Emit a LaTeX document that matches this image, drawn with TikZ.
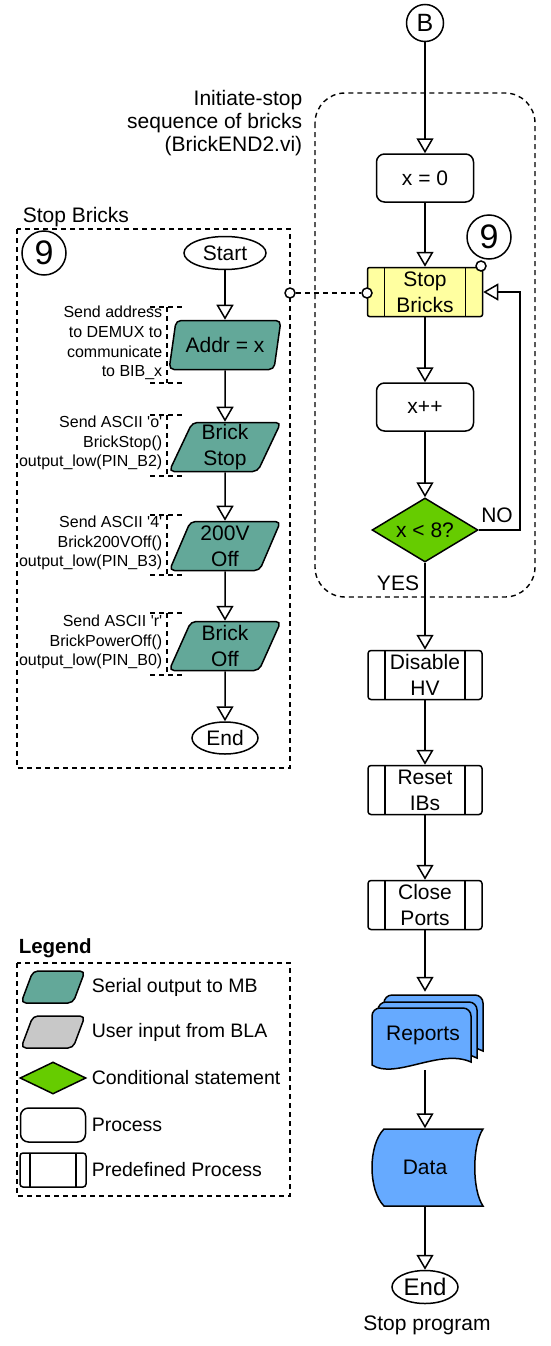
\documentclass[tikz,border=0pt]{standalone}
\usepackage{fontspec}
\setmainfont{Liberation Sans}
\usetikzlibrary{calc}
\usetikzlibrary{shapes}
\usetikzlibrary{arrows.meta}

\definecolor{serialteal}{RGB}{99,168,153}
\definecolor{stopyellow}{RGB}{255,255,160}
\definecolor{condgreen}{RGB}{102,204,0}
\definecolor{docblue}{RGB}{102,170,255}
\definecolor{inputgray}{RGB}{200,200,200}

\tikzset{
  flow/.style={-{Triangle[open,width=17pt,length=15pt]}},
  grp/.style={dash pattern=on 5pt off 4pt, line width=1.4pt},
  proc/.style={rectangle, rounded corners=8pt, draw, fill=white, minimum width=97pt, minimum height=48pt, align=center},
  serial/.style={trapezium, trapezium left angle=70, trapezium right angle=110, trapezium stretches=true, rounded corners=5pt, draw, fill=serialteal, minimum width=112pt, minimum height=49pt, align=center, inner sep=0pt},
  predef/.style={rectangle, rounded corners=3pt, draw, fill=white, minimum width=114pt, minimum height=49pt, align=center, inner sep=0pt,
    path picture={\draw ([xshift=#1]path picture bounding box.north west) -- ([xshift=#1]path picture bounding box.south west)
      ([xshift=-#1]path picture bounding box.north east) -- ([xshift=-#1]path picture bounding box.south east);}},
  predef/.default=17pt,
  term/.style={ellipse, draw, fill=white, minimum width=82pt, minimum height=33pt, inner sep=0pt},
  cond/.style={diamond, draw, fill=condgreen, minimum width=106pt, minimum height=64pt, aspect=1.66, inner sep=0pt},
  note/.style={align=right, anchor=east, inner sep=0pt, font=\fontsize{16}{19.8}\selectfont},
  legtext/.style={anchor=west, inner sep=0pt, font=\fontsize{19.5}{22}\selectfont},
  dot/.style={circle, draw, fill=white, minimum size=10pt, inner sep=0pt},
  bignum/.style={circle, draw, minimum size=44pt, inner sep=0pt, font=\fontsize{34}{34}\selectfont}
}

\begin{document}
\begin{tikzpicture}[x=1pt, y=-1pt, line width=1.5pt, font=\fontsize{21}{26}\selectfont]
    \useasboundingbox (0,0) rectangle (550,1346);

    % dashed frames
    \draw[grp] (17,229) rectangle (290,768);
    \draw[grp, rounded corners=30pt] (315,93) rectangle (535,597);
    \draw[grp] (17,963) rectangle (290,1196);

    \node (stoptitle) at (22,222) [anchor=base west, inner sep=0pt] {Stop Bricks};
    \node (inittitle) at (303,123) [anchor=east, align=right, inner sep=0pt, font=\fontsize{21}{23}\selectfont] {Initiate-stop\\sequence of bricks\\(BrickEND2.vi)};
    \node (legtitle) at (18,953) [anchor=base west, inner sep=0pt, font=\fontsize{20.5}{22}\selectfont\bfseries] {Legend};

    % Stop Bricks subroutine
    \node (ninel) at (44,253) [bignum] {9};
    \node (start) at (225,253) [term] {Start};
    \node (addr) at (225,345) [serial] {Addr = x};
    \node (bstop) at (225,447) [serial] {Brick\\Stop};
    \node (voff) at (225,546) [serial] {200V\\Off};
    \node (boff) at (225,646) [serial] {Brick\\Off};
    \node (lend) at (225,738) [term, minimum width=66pt, minimum height=32pt] {End};

    \draw[flow] (start) -- (addr);
    \draw[flow] (addr) -- (bstop);
    \draw[flow] (bstop) -- (voff);
    \draw[flow] (voff) -- (boff);
    \draw[flow] (boff) -- (lend);

    \node (noteaddr) at (163,343) [note] {Send address\\to DEMUX to\\communicate\\to BIB\_x};
    \node (notestop) at (163,443) [note] {Send ASCII \textquotesingle o\textquotesingle\\BrickStop()\\output\_low(PIN\_B2)};
    \node (notevoff) at (163,543) [note] {Send ASCII \textquotesingle 4\textquotesingle\\Brick200VOff()\\output\_low(PIN\_B3)};
    \node (noteboff) at (163,642) [note] {Send ASCII \textquotesingle r\textquotesingle\\BrickPowerOff()\\output\_low(PIN\_B0)};
    \draw[grp] (150,307) -- (183,307) (167,307) -- (167,383) (150,383) -- (183,383);
    \draw[grp] (150,415) -- (183,415) (167,415) -- (167,476) (150,476) -- (183,476);
    \draw[grp] (150,515) -- (183,515) (167,515) -- (167,575) (150,575) -- (183,575);
    \draw[grp] (150,613) -- (183,613) (167,613) -- (167,675) (150,675) -- (183,675);

    % main sequence
    \node (bcon) at (425,23) [circle, draw, minimum size=37pt, inner sep=0pt, font=\fontsize{25}{25}\selectfont] {B};
    \node (xzero) at (425,178) [proc] {x = 0};
    \node (sb) at (425,292) [predef, fill=stopyellow, rounded corners=2pt, minimum width=115pt] {Stop\\Bricks};
    \node (xinc) at (425,407) [proc] {x++};
    \node (dia) at (425,530) [cond] {x < 8?};
    \node (dis) at (425,675) [predef] {Disable\\HV};
    \node (rst) at (425,790) [predef] {Reset\\IBs};
    \node (cls) at (425,905) [predef] {Close\\Ports};

    \node (nine) at (489,237) [bignum] {9};
    \node (ninedot) at (481,266) [dot] {};
    \node (sbdot) at (367,293) [dot] {};
    \node (paneldot) at (290,293) [dot] {};
    \draw[grp] (paneldot) -- (sbdot);

    % reports and data
    \draw[fill=docblue] (384,1051) [rounded corners=8pt] -- (384,995) -- (483,995) -- (483,1020) [sharp corners] -- (483,1051) .. controls (457,1037) and (412,1067) .. (384,1051) -- cycle;
    \draw[fill=docblue] (378,1058) [rounded corners=8pt] -- (378,1002) -- (477,1002) -- (477,1025) [sharp corners] -- (477,1058) .. controls (451,1044) and (406,1074) .. (378,1058) -- cycle;
    \draw[fill=docblue] (372,1065) [rounded corners=8pt] -- (372,1008) -- (471,1008) -- (471,1030) [sharp corners] -- (471,1062) .. controls (440,1048) and (395,1080) .. (372,1065) -- cycle;
    \node (rep) at (425,1031) [minimum width=111pt, minimum height=77pt, inner sep=0pt] {};
    \node (reptxt) at (423,1035) {Reports};

    \draw[fill=docblue] (384,1129) -- (483,1129) .. controls (472,1145) and (472,1190) .. (483,1206) -- (384,1206) .. controls (368,1190) and (368,1145) .. (384,1129) -- cycle;
    \node (dat) at (425,1167.5) [minimum width=111pt, minimum height=77pt, inner sep=0pt] {Data};

    \node (mend) at (425,1287) [term, minimum width=66pt, minimum height=33pt, font=\fontsize{24}{24}\selectfont] {End};
    \node (stopprog) at (427,1330) [anchor=base, inner sep=0pt] {Stop program};

    \draw[flow] (bcon) -- (xzero);
    \draw[flow] (xzero) -- (sb);
    \draw[flow] (sb) -- (xinc);
    \draw[flow] (xinc) -- (dia);
    \draw[flow] (dia) -- (dis);
    \draw[flow] (dis) -- (rst);
    \draw[flow] (rst) -- (cls);
    \draw[flow] (cls) -- (rep);
    \draw[flow] (rep) -- (dat);
    \draw[flow] (dat) -- (mend);

    \coordinate (loop) at (520,530);
    \draw[flow] (dia.east) -- (loop) |- (sb.east);
    \node (nolab) at (497,522) [anchor=base, inner sep=0pt] {NO};
    \node (yeslab) at (398,590) [anchor=base, inner sep=0pt] {YES};

    % legend
    \node (lgser) at (53,987) [serial, minimum width=64pt, minimum height=32pt] {\phantom{M}};
    \node (lgusr) at (53,1032) [serial, fill=inputgray, minimum width=64pt, minimum height=32pt] {\phantom{M}};
    \node (lgcond) at (53,1078) [cond, minimum width=66pt, minimum height=32pt, aspect=2] {};
    \node (lgproc) at (53,1125) [proc, minimum width=65pt, minimum height=34pt] {};
    \node (lgpre) at (53,1170) [predef=10pt, minimum width=66pt, minimum height=34pt] {};

    \node (lgsertxt) at (91,987) [legtext] {Serial output to MB};
    \node (lgusrtxt) at (91,1032) [legtext] {User input from BLA};
    \node (lgcondtxt) at (91,1078) [legtext] {Conditional statement};
    \node (lgproctxt) at (91,1125) [legtext] {Process};
    \node (lgpretxt) at (91,1170) [legtext] {Predefined Process};
\end{tikzpicture}
\end{document}
